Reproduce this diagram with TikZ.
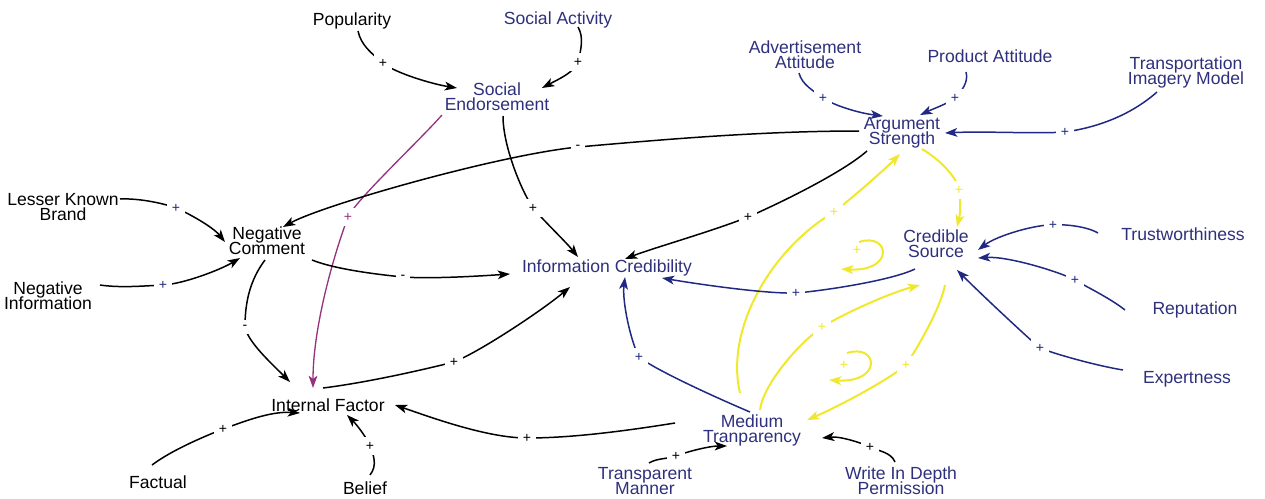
\documentclass[tikz,border=0pt]{standalone}
\usepackage{fontspec}
\setmainfont{Liberation Sans}
\usetikzlibrary{arrows.meta,calc}
\definecolor{navyt}{RGB}{46,48,125}
\definecolor{navyl}{RGB}{32,40,130}
\definecolor{yel}{RGB}{240,232,45}
\definecolor{mag}{RGB}{150,50,125}
\newcommand\dgfont{\fontsize{10}{8.7}\selectfont\lineskiplimit -20pt\relax}
\begin{document}
\begin{tikzpicture}[x=0.02cm,y=-0.02cm,
  lbl/.style={font=\dgfont, align=center, inner sep=0pt, text=black},
  nlbl/.style={lbl, text=navyt},
  con/.style={line width=0.85pt, -{Stealth[length=7pt,width=5pt,inset=1.8pt]}},
  bk/.style={con, draw=black},
  nv/.style={con, draw=navyl},
  yl/.style={con, draw=yel, line width=1.15pt},
  mg/.style={con, draw=mag, line width=0.75pt},
  sg/.style={fill=white, inner sep=2.6pt, font=\fontsize{8}{8}\selectfont, text=black},
  sgn/.style={sg, text=navyl},
  sgy/.style={sg, text=yel},
  sgm/.style={sg, text=mag},
  loopy/.style={draw=yel, line width=1.15pt, -{Stealth[length=7pt,width=5pt,inset=1.8pt]}}
]
\useasboundingbox (0,0) rectangle (1265,498);

% nodes
\node[lbl]  (pop) at (352,21)    {Popularity};
\node[nlbl] (sa)  at (558,20)    {Social Activity};
\node[nlbl] (se)  at (497,96.5)  {Social\\Endorsement};
\node[nlbl] (aa)  at (805,54.5)  {Advertisement\\Attitude};
\node[nlbl] (pa)  at (990,56)    {Product Attitude};
\node[nlbl] (tim) at (1186,72.5) {Transportation\\Imagery Model};
\node[nlbl] (as)  at (902,132.5) {Argument\\Strength};
\node[lbl]  (lkb) at (63,207)    {Lesser Known\\Brand};
\node[lbl]  (nc)  at (267,241)   {Negative\\Comment};
\node[lbl]  (ni)  at (48,295.5)  {Negative\\Information};
\node[nlbl] (ic)  at (607,268)   {Information Credibility};
\node[nlbl] (cs)  at (936,243.5) {Credible\\Source};
\node[nlbl] (tw)  at (1183,234)  {Trustworthiness};
\node[nlbl] (rep) at (1195,310)  {Reputation};
\node[nlbl] (exp) at (1187,379)  {Expertness};
\node[lbl]  (inf) at (328,405)   {Internal Factor};
\node[nlbl] (mt)  at (752,430.5) {Medium\\Tranparency};
\node[lbl]  (fac) at (158,482)   {Factual};
\node[lbl]  (bel) at (365,488)   {Belief};
\node[nlbl] (tm)  at (645,481)   {Transparent\\Manner};
\node[nlbl] (wdp) at (901,480.5) {Write In Depth\\Permission};

% connectors
\draw[bk] ($(pop)+(6,10)$) .. controls +(3,14) and +(-12,-10) .. (383,63) node[sg]{+}
          .. controls +(12,10) and +(-25,-4) .. ($(se)+(-40,-8.5)$);
\draw[bk] ($(sa)+(20,7)$) .. controls +(6,10) and +(3,-12) .. (578,62) node[sg]{+}
          .. controls +(-3,10) and +(15,-8) .. ($(se)+(45,-8.5)$);
\draw[mg] ($(se)+(-55,18.5)$) .. controls +(-25,28) and +(8,-17) .. (348,217) node[sgm]{+}
          .. controls +(-15,40) and +(0,-60) .. ($(inf)+(-15,-17)$);
\draw[bk] ($(se)+(6,19.5)$) .. controls +(0,30) and +(-12,-18) .. (533,208) node[sg]{+}
          .. controls +(10,12) and +(-12,-15) .. ($(ic)+(-29,-11)$);
\draw[bk] ($(as)+(-43,-1.5)$) .. controls +(-100,0) and +(80,-7) .. (578,147) node[sg]{-}
          .. controls +(-80,8) and +(40,-22) .. ($(nc)+(16,-14)$);
\draw[bk] ($(as)+(-35,18.5)$) .. controls +(-25,22) and +(30,-13) .. (748,217) node[sg]{+}
          .. controls +(-35,14) and +(25,-10) .. ($(ic)+(18,-9)$);
\draw[nv] ($(aa)+(-6,18.5)$) .. controls +(3,12) and +(-9,-7) .. (823,98) node[sgn]{+}
          .. controls +(10,7) and +(-25,-3) .. ($(as)+(-19,-16.5)$);
\draw[nv] ($(pa)+(-24,16)$) .. controls +(3,10) and +(6,-6) .. (955,98) node[sgn]{+}
          .. controls +(-8,6) and +(15,-7) .. ($(as)+(18,-17.5)$);
\draw[nv] ($(tim)+(-29,19.5)$) .. controls +(-25,22) and +(35,-5) .. (1065,132) node[sgn]{+}
          .. controls +(-30,2) and +(40,-2) .. ($(as)+(43,0.5)$);
\draw[yl] ($(as)+(20,16.5)$) .. controls +(20,12) and +(-2,-12) .. (959,190) node[sgy]{+}
          .. controls +(2,12) and +(3,-12) .. ($(cs)+(21,-16.5)$);
\draw[yl] ($(mt)+(-12,-37.5)$) .. controls +(-15,-63) and +(-64,38) .. (834,212) node[sgy]{+}
          .. controls +(18,-14) and +(-18,18) .. ($(as)+(-2,21.5)$);
\draw[yl] ($(mt)+(8,-20.5)$) .. controls +(3,-25) and +(-25,18) .. (822,327) node[sgy]{+}
          .. controls +(25,-15) and +(-30,8) .. ($(cs)+(-16,41.5)$);
\draw[yl] ($(cs)+(9,41.5)$) .. controls +(-5,25) and +(10,-15) .. (906,365) node[sgy]{+}
          .. controls +(-15,13) and +(35,-15) .. ($(mt)+(55,-10.5)$);
\draw[nv] ($(cs)+(-21,25.5)$) .. controls +(-25,12) and +(25,-2) .. (796,293) node[sgn]{+}
          .. controls +(-30,1) and +(35,6) .. ($(ic)+(55,10)$);
\draw[nv] ($(tw)+(-85,-1)$) .. controls +(-12,-7) and +(10,-1) .. (1053,225) node[sgn]{+}
          .. controls +(-15,-1) and +(20,-15) .. ($(cs)+(42,6.5)$);
\draw[nv] ($(rep)+(-70,0)$) .. controls +(-15,-12) and +(8,5) .. (1075,280) node[sgn]{+}
          .. controls +(-15,-8) and +(30,-2) .. ($(cs)+(42,14.5)$);
\draw[nv] ($(exp)+(-64,-9)$) .. controls +(-30,-5) and +(12,5) .. (1040,348) node[sgn]{+}
          .. controls +(-12,-10) and +(25,25) .. ($(cs)+(21,26.5)$);
\draw[nv] ($(mt)+(-2,-18.5)$) .. controls +(-40,-17) and +(15,12) .. (639,357) node[sgn]{+}
          .. controls +(-8,-15) and +(-3,25) .. ($(ic)+(18,9)$);
\draw[bk] ($(mt)+(-77,-7.5)$) .. controls +(-50,8) and +(45,0) .. (527,438) node[sg]{+}
          .. controls +(-40,0) and +(35,12) .. ($(inf)+(67,0)$);
\draw[bk] ($(tm)+(4,-18)$) .. controls +(8,-5) and +(-8,3) .. (676,456) node[sg]{+}
          .. controls +(10,-4) and +(-18,0) .. ($(mt)+(-25,15.5)$);
\draw[bk] ($(wdp)+(-6,-18.5)$) .. controls +(-4,-10) and +(8,4) .. (870,447) node[sg]{+}
          .. controls +(-8,-4) and +(18,-2) .. ($(mt)+(70,7.5)$);
\draw[bk] ($(lkb)+(57,-8)$) .. controls +(20,-1) and +(-10,-4) .. (176,208) node[sgn]{+}
          .. controls +(12,5) and +(-12,-15) .. ($(nc)+(-42,1)$);
\draw[bk] ($(ni)+(52,-10.5)$) .. controls +(20,3) and +(-20,1) .. (163,285) node[sgn]{+}
          .. controls +(20,-1) and +(-20,12) .. ($(nc)+(-27,17)$);
\draw[bk] ($(nc)+(45,19)$) .. controls +(25,10) and +(-20,-2) .. (403,277) node[sg]{-}
          .. controls +(30,2) and +(-30,2) .. ($(ic)+(-97,6)$);
\draw[bk] ($(nc)+(-2,19)$) .. controls +(-15,20) and +(0,-25) .. (245,327) node[sg]{-}
          .. controls +(3,15) and +(-20,-20) .. ($(inf)+(-38,-23)$);
\draw[bk] ($(inf)+(-5,-17)$) .. controls +(40,-5) and +(-40,10) .. (454,362) node[sg]{+}
          .. controls +(25,-10) and +(-30,25) .. ($(ic)+(-37,19)$);
\draw[bk] ($(fac)+(-6,-17)$) .. controls +(20,-15) and +(-20,8) .. (223,429) node[sg]{+}
          .. controls +(20,-7) and +(-30,-2) .. ($(inf)+(-28,8)$);
\draw[bk] ($(bel)+(5,-13)$) .. controls +(8,-10) and +(3,8) .. (370,446) node[sg]{+}
          .. controls +(-3,-8) and +(10,10) .. ($(inf)+(19,10)$);

% loop markers
\draw[loopy] (859,242) .. controls (890,232) and (895,272) .. (841,269);
\node[sgy, fill=none, inner sep=0pt] (l1) at (857,250) {+};
\draw[loopy] (847,353) .. controls (878,343) and (883,383) .. (829,380);
\node[sgy, fill=none, inner sep=0pt] (l2) at (844,365) {+};
\end{tikzpicture}
\end{document}
